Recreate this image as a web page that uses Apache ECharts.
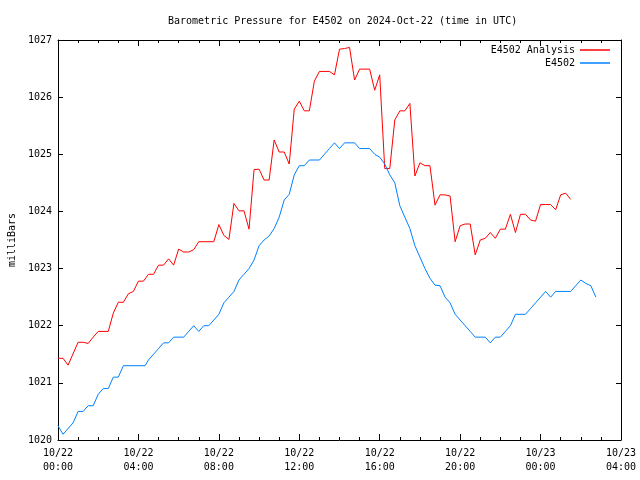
<!DOCTYPE html>
<html>
<head>
<meta charset="utf-8">
<script src="https://cdn.jsdelivr.net/npm/echarts@6/dist/echarts.min.js"></script>
<style>html,body{margin:0;padding:0;background:#fff}#c{width:640px;height:480px}</style>
</head>
<body>
<div id="c"></div>
<script>
// hours since 2024-10-22 00:00 UTC, pressure in mb
var analysisHours = [0,0.25,0.5,1.0,1.25,1.5,1.75,2.0,2.5,2.75,3.0,3.25,3.5,3.75,4.0,4.25,4.5,4.75,5.0,5.25,5.5,5.75,6.0,6.25,6.5,6.75,7.0,7.75,8.0,8.25,8.5,8.75,9.0,9.25,9.5,9.75,10.0,10.25,10.5,10.75,11.0,11.25,11.5,11.75,12.0,12.25,12.5,12.75,13.0,13.5,13.75,14.0,14.25,14.5,14.75,15.0,15.5,15.75,16.0,16.25,16.5,16.75,17.0,17.25,17.5,17.75,18.0,18.25,18.5,18.75,19.0,19.25,19.5,19.75,20.0,20.25,20.5,20.75,21.0,21.25,21.5,21.75,22.0,22.25,22.5,22.75,23.0,23.25,23.5,23.75,24.0,24.25,24.5,24.75,25.0,25.25,25.5];
var analysisValues = [1021.43,1021.43,1021.31,1021.71,1021.71,1021.69,1021.8,1021.9,1021.9,1022.22,1022.41,1022.41,1022.56,1022.6,1022.78,1022.78,1022.9,1022.9,1023.06,1023.06,1023.17,1023.06,1023.34,1023.29,1023.29,1023.33,1023.47,1023.47,1023.77,1023.58,1023.51,1024.14,1024.01,1024.01,1023.69,1024.73,1024.74,1024.55,1024.55,1025.25,1025.04,1025.04,1024.83,1025.79,1025.93,1025.76,1025.76,1026.28,1026.45,1026.45,1026.39,1026.84,1026.85,1026.87,1026.3,1026.49,1026.49,1026.12,1026.39,1024.75,1024.75,1025.6,1025.76,1025.76,1025.89,1024.62,1024.85,1024.8,1024.8,1024.11,1024.29,1024.29,1024.27,1023.47,1023.75,1023.78,1023.78,1023.24,1023.5,1023.53,1023.63,1023.53,1023.69,1023.69,1023.95,1023.63,1023.95,1023.95,1023.85,1023.83,1024.12,1024.12,1024.12,1024.03,1024.29,1024.32,1024.21];

var buoyHours = [0,0.25,0.75,1.0,1.25,1.5,1.75,2.0,2.25,2.5,2.75,3.0,3.25,4.33,4.5,4.75,5.0,5.25,5.5,5.75,6.25,6.5,6.75,7.0,7.25,7.5,7.75,8.0,8.25,8.5,8.75,9.0,9.25,9.5,9.75,10.0,10.25,10.5,10.75,11.0,11.25,11.5,11.75,12.0,12.25,12.5,13.0,13.25,13.5,13.75,14.0,14.25,14.75,15.0,15.5,15.75,16.0,16.25,16.5,16.75,17.0,17.25,17.5,17.75,18.0,18.25,18.5,18.75,19.0,19.25,19.5,19.75,20.0,20.25,20.5,20.75,21.25,21.5,21.75,22.0,22.25,22.5,22.75,23.25,23.5,23.75,24.0,24.25,24.5,24.75,25.5,25.75,26.0,26.25,26.5,26.75];
var buoyValues = [1020.25,1020.1,1020.3,1020.5,1020.5,1020.6,1020.6,1020.8,1020.9,1020.9,1021.1,1021.1,1021.3,1021.3,1021.4,1021.5,1021.6,1021.7,1021.7,1021.8,1021.8,1021.9,1022.0,1021.9,1022.0,1022.0,1022.1,1022.2,1022.4,1022.5,1022.6,1022.8,1022.9,1023.0,1023.15,1023.4,1023.5,1023.57,1023.7,1023.9,1024.2,1024.3,1024.64,1024.8,1024.8,1024.9,1024.9,1025.0,1025.1,1025.2,1025.1,1025.2,1025.2,1025.1,1025.1,1025.0,1024.95,1024.83,1024.64,1024.5,1024.1,1023.9,1023.7,1023.4,1023.2,1023.0,1022.83,1022.71,1022.7,1022.5,1022.4,1022.2,1022.1,1022.0,1021.9,1021.8,1021.8,1021.7,1021.8,1021.8,1021.9,1022.0,1022.2,1022.2,1022.3,1022.4,1022.5,1022.6,1022.5,1022.6,1022.6,1022.7,1022.8,1022.74,1022.7,1022.5];

var xTickLabels = {0:'10/22\n00:00',4:'10/22\n04:00',8:'10/22\n08:00',12:'10/22\n12:00',16:'10/22\n16:00',20:'10/22\n20:00',24:'10/23\n00:00',28:'10/23\n04:00'};
var titleText = 'Barometric Pressure for E4502 on 2024-Oct-22 (time in UTC)';
var yName = 'milliBars';
var analysisName = 'E4502 Analysis';
var buoyName = 'E4502';

function pairs(h, v){ return h.map(function(x,i){ return [x, v[i]]; }); }

var FONT = 'DejaVu Sans Mono';
var chart = echarts.init(document.getElementById('c'), null, {renderer:'canvas'});
var axisLine = {show:true, onZero:false, lineStyle:{color:'#000', width:1}};
var legendBase = {right:25, align:'right', itemWidth:30, itemHeight:1.5, itemGap:0, icon:'rect',
  textStyle:{fontFamily:FONT, fontSize:10, color:'#000'}, selectedMode:false};
chart.setOption({
  animation:false,
  backgroundColor:'#fff',
  title:{text:titleText, left:163, top:11, textStyle:{fontFamily:FONT, fontSize:10, fontWeight:'normal', color:'#000'}},
  legend:[
    Object.assign({}, legendBase, {data:[analysisName], top:40}),
    Object.assign({}, legendBase, {data:[buoyName], top:53})
  ],
  grid:{left:58, right:19, top:40, bottom:40, containLabel:false, outerBoundsMode:'none'},
  xAxis:[
    {type:'value', position:'bottom', min:0, max:28, interval:4,
     axisLine:axisLine, splitLine:{show:false},
     axisTick:{show:true, inside:true, length:6, lineStyle:{color:'#000'}},
     minorTick:{show:true, splitNumber:4, length:3, lineStyle:{color:'#000'}},
     axisLabel:{margin:6, fontFamily:FONT, fontSize:10, color:'#000', lineHeight:14,
       formatter:function(v){ return xTickLabels[v] || ''; }}},
    {type:'value', position:'top', min:0, max:28, interval:4,
     axisLine:axisLine, splitLine:{show:false},
     axisTick:{show:true, inside:true, length:6, lineStyle:{color:'#000'}},
     minorTick:{show:true, splitNumber:4, length:3, lineStyle:{color:'#000'}},
     axisLabel:{show:false}}
  ],
  yAxis:[
    {type:'value', position:'left', min:1020, max:1027, interval:1,
     name:yName, nameLocation:'middle', nameGap:40, nameRotate:90,
     nameTextStyle:{fontFamily:FONT, fontSize:10, color:'#000'},
     axisLine:axisLine, splitLine:{show:false},
     axisTick:{show:true, inside:true, length:5, lineStyle:{color:'#000'}},
     axisLabel:{margin:6, fontFamily:FONT, fontSize:10, color:'#000',
       formatter:function(v){ return String(v); }}},
    {type:'value', position:'right', min:1020, max:1027, interval:1,
     axisLine:axisLine, splitLine:{show:false},
     axisTick:{show:true, inside:true, length:5, lineStyle:{color:'#000'}},
     axisLabel:{show:false}}
  ],
  series:[
    {name:analysisName, type:'line', data:pairs(analysisHours, analysisValues), symbol:'none', showSymbol:false,
     lineStyle:{color:'#ff0000', width:1}, itemStyle:{color:'#ff0000'}},
    {name:buoyName, type:'line', data:pairs(buoyHours, buoyValues), symbol:'none', showSymbol:false,
     lineStyle:{color:'#0080ff', width:1}, itemStyle:{color:'#0080ff'}}
  ]
});
</script>
</body>
</html>
